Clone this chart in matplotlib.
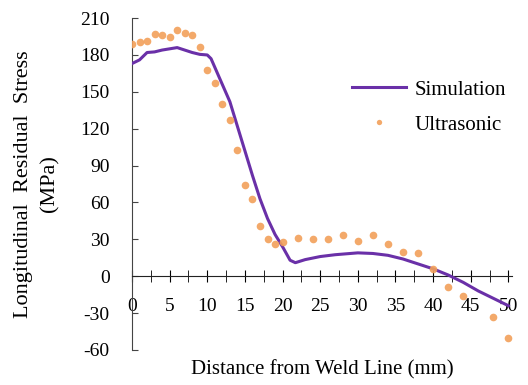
import matplotlib
matplotlib.use("Agg")
import matplotlib.pyplot as plt
from matplotlib.ticker import MultipleLocator

plt.rcParams['font.family'] = ['Liberation Serif', 'DejaVu Serif']
plt.rcParams['axes.unicode_minus'] = False

# Simulation curve (distance mm, stress MPa)
sim_x = [0, 1, 2, 3, 4, 5, 6, 7, 8, 9, 10, 10.5, 11, 12, 13, 14, 15, 16, 17, 18,
         19, 20, 21, 21.7, 23, 25, 27, 30, 32, 34, 36, 38, 40, 42, 44, 46, 48, 50]
sim_y = [173, 176, 182, 182.5, 184, 185, 186, 184, 182, 180.5, 180, 177, 170, 156, 142, 122,
         102, 82, 63, 47, 34, 24, 13, 11, 13.5, 16, 17.5, 19, 18.5, 17, 14, 10, 6, 1,
         -5, -12, -18, -24]

# Ultrasonic measurements
ult_x = [0, 1, 2, 3, 4, 5, 6, 7, 8, 9, 10, 11, 12, 13, 14, 15, 16, 17, 18, 19, 20,
         22, 24, 26, 28, 30, 32, 34, 36, 38, 40, 42, 44, 48, 50]
ult_y = [189, 190.5, 191, 197, 196, 195, 200, 197.5, 196, 186.5, 167.5, 157, 140.5, 127,
         102.5, 74.5, 62.5, 40.5, 30, 26.5, 28,
         31, 30, 30, 33.5, 28.5, 33.5, 26, 20, 19, 6, -8.5, -16.5, -33, -50]

fig = plt.figure(figsize=(5.28, 3.85), dpi=100)
ax = fig.add_axes([0.25, 0.091, 0.72, 0.862])

ax.plot(sim_x, sim_y, color='#6A30A8', linewidth=2.2, label='Simulation', zorder=3)
ax.plot(ult_x, ult_y, linestyle='none', marker='o', markersize=5.5,
        color='#F2A05A', alpha=0.9, markeredgewidth=0, label='Ultrasonic', zorder=4)

ax.set_xlim(0, 50.5)
ax.set_ylim(-60, 210)
ax.set_yticks(range(-60, 211, 30))
ax.xaxis.set_major_locator(MultipleLocator(5))
ax.xaxis.set_minor_locator(MultipleLocator(2.5))

for s in ['top', 'right']:
    ax.spines[s].set_visible(False)
ax.spines['bottom'].set_position(('data', 0))
ax.spines['left'].set_bounds(-60, 210)
ax.spines['left'].set_color('#444444')
ax.spines['bottom'].set_color('#222222')

ax.tick_params(axis='y', direction='in', length=4, labelsize=14, pad=16, color='#444444')
ax.tick_params(axis='x', which='both', direction='inout', length=9, labelsize=14, pad=11)
ax.tick_params(axis='x', which='minor', labelbottom=False)

ax.set_xlabel('Distance from Weld Line (mm)', fontsize=15)
ax.xaxis.set_label_coords(0.50, -0.03)
ax.set_ylabel('Longitudinal  Residual  Stress\n(MPa)', fontsize=16, linespacing=1.5)
ax.yaxis.set_label_coords(-0.19, 0.5)

ax.legend(loc='upper left', bbox_to_anchor=(0.53, 0.87), frameon=False, fontsize=15,
          handlelength=2.6, handletextpad=0.4, labelspacing=0.75, markerscale=0.7)

fig.savefig('out.png', dpi=100)
